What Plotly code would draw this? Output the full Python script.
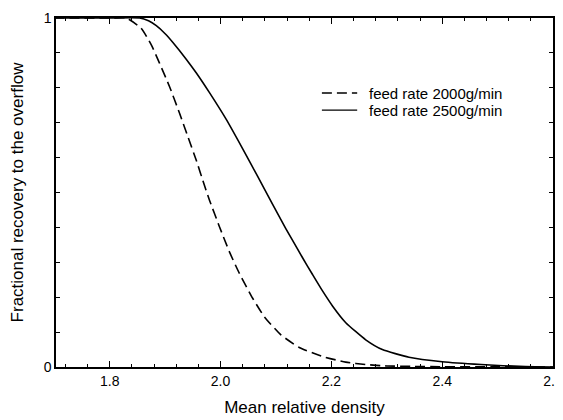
import plotly.graph_objects as go

# Data
density_2000 = [1.70, 1.80, 1.83, 1.857, 1.875, 1.89, 1.908, 1.926, 1.941, 1.956, 1.971,
                1.98, 1.998, 2.016, 2.034, 2.058, 2.079, 2.109, 2.142, 2.184, 2.226,
                2.262, 2.30, 2.35, 2.40, 2.50, 2.60]
recovery_2000 = [1.0, 1.0, 1.0, 0.97, 0.923, 0.87, 0.803, 0.727, 0.66, 0.593, 0.52,
                 0.478, 0.402, 0.33, 0.268, 0.197, 0.144, 0.092, 0.056, 0.03, 0.014,
                 0.007, 0.003, 0.0015, 0.0008, 0.0003, 0.0]

density_2500 = [1.70, 1.80, 1.854, 1.87, 1.884, 1.90, 1.914, 1.938, 1.956, 1.98, 2.01,
                2.04, 2.067, 2.094, 2.118, 2.148, 2.166, 2.184, 2.202, 2.226, 2.262,
                2.292, 2.34, 2.40, 2.47, 2.55, 2.60]
recovery_2500 = [1.0, 1.0, 1.0, 0.992, 0.978, 0.955, 0.93, 0.882, 0.843, 0.786, 0.71,
                 0.625, 0.546, 0.466, 0.396, 0.313, 0.265, 0.218, 0.175, 0.127, 0.078,
                 0.05, 0.028, 0.015, 0.007, 0.001, 0.0]

legend_labels = ["feed rate 2000g/min", "feed rate 2500g/min"]
x_ticks = [1.8, 2.0, 2.2, 2.4, 2.6]
x_ticklabels = ["1.8", "2.0", "2.2", "2.4", "2.6"]
y_ticks = [0, 1]
y_ticklabels = ["0", "1"]

FONT = "Liberation Sans, Arial, sans-serif"

fig = go.Figure()
fig.add_trace(go.Scatter(x=density_2000, y=recovery_2000, mode="lines",
                         line=dict(color="black", width=1.6, dash="10px,5px", shape="spline", smoothing=0.5),
                         name=legend_labels[0], showlegend=False))
fig.add_trace(go.Scatter(x=density_2500, y=recovery_2500, mode="lines",
                         line=dict(color="black", width=1.6, shape="spline", smoothing=0.5),
                         name=legend_labels[1], showlegend=False))

# Manual legend (compact spacing as in the reference)
legend_y = [0.785, 0.736]
dashes = ["10px,5px", "solid"]
for lab, ly, d in zip(legend_labels, legend_y, dashes):
    fig.add_shape(type="line", xref="paper", yref="paper", x0=0.535, x1=0.606, y0=ly, y1=ly,
                  line=dict(color="black", width=1.4, dash=d))
    fig.add_annotation(xref="paper", yref="paper", x=0.626, y=ly, text=lab, showarrow=False,
                       xanchor="left", yanchor="middle", font=dict(family=FONT, size=15, color="black"))

axis_common = dict(showgrid=False, zeroline=False, showline=True, linecolor="black", linewidth=1.5,
                   mirror="ticks", ticks="inside", tickcolor="black", automargin=False,
                   tickfont=dict(family=FONT, size=14, color="black"))

fig.update_xaxes(range=[1.703, 2.6], tickvals=x_ticks, ticktext=x_ticklabels, ticklen=6, tickwidth=1,
                 minor=dict(dtick=0.04, tick0=1.8, ticks="inside", ticklen=3, tickcolor="black", tickwidth=1),
                 title=dict(text="Mean relative density", font=dict(family=FONT, size=17, color="black"), standoff=14),
                 **axis_common)
fig.update_yaxes(range=[0, 1], tickvals=y_ticks, ticktext=y_ticklabels, ticklen=4, tickwidth=1,
                 minor=dict(dtick=0.1, tick0=0, ticks="inside", ticklen=4, tickcolor="black", tickwidth=1),
                 title=dict(text="Fractional recovery to the overflow", font=dict(family=FONT, size=17, color="black"), standoff=16),
                 **axis_common)

# The page body has an 8px default margin, so the figure is sized/offset for that
fig.update_layout(width=555, height=412, margin=dict(l=48, r=10, t=10, b=53, autoexpand=False),
                  plot_bgcolor="white", paper_bgcolor="white", showlegend=False,
                  font=dict(family=FONT, color="black"))

fig.write_html("out.html")
